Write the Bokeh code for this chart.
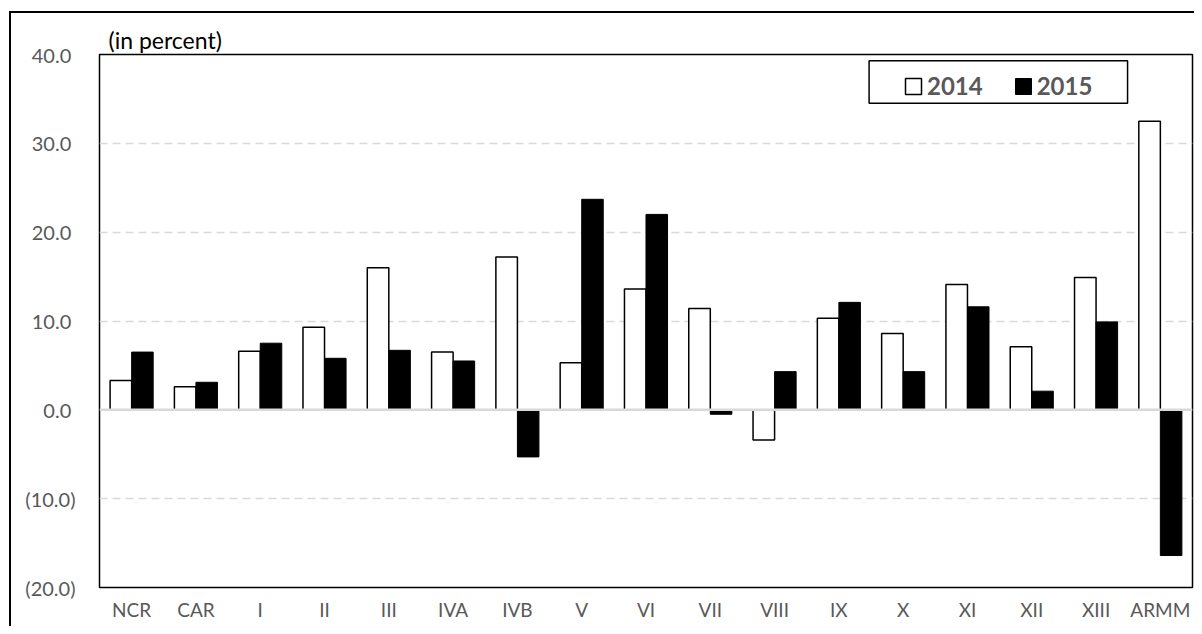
from bokeh.plotting import figure
from bokeh.models import (FactorRange, Range1d, FixedTicker, Span, BoxAnnotation,
                          Legend, LegendItem, ColumnDataSource)
from bokeh.transform import dodge
from bokeh.layouts import column
from bokeh.embed import file_html
from bokeh.resources import INLINE

# ---- data ----
regions = ["NCR", "CAR", "I", "II", "III", "IVA", "IVB", "V", "VI", "VII",
           "VIII", "IX", "X", "XI", "XII", "XIII", "ARMM"]
growth_2014 = [3.3, 2.6, 6.6, 9.3, 16.0, 6.5, 17.2, 5.3, 13.6, 11.4,
               -3.4, 10.3, 8.6, 14.1, 7.1, 14.9, 32.5]
growth_2015 = [6.5, 3.1, 7.5, 5.8, 6.7, 5.5, -5.3, 23.7, 22.0, -0.5,
               4.3, 12.1, 4.3, 11.6, 2.1, 9.9, -16.4]
series_names = ["2014", "2015"]
y_ticks = [-20, -10, 0, 10, 20, 30, 40]
y_tick_labels = ["(20.0)", "(10.0)", "0.0\u2008", "10.0\u2008", "20.0\u2008",
                 "30.0\u2008", "40.0\u2008"]
grid_ticks = [-10, 10, 20, 30]
unit_label = "(in percent)"

src = ColumnDataSource(dict(region=regions, y2014=growth_2014, y2015=growth_2015))

FONT = "Lato"
GREY = "#595959"

p = figure(x_range=FactorRange(factors=regions, range_padding=0),
           y_range=Range1d(-20, 40),
           width=1183, height=613,
           min_border_left=88, min_border_right=2,
           min_border_top=41, min_border_bottom=39,
           output_backend="svg", toolbar_location=None,
           title=unit_label)

p.background_fill_color = "white"
p.border_fill_color = "white"
p.outline_line_color = "black"
p.outline_line_width = 1.5

p.title.text_font = FONT
p.title.text_font_size = "23px"
p.title.text_font_style = "normal"
p.title.text_color = "black"
p.title.align = "left"
p.title.offset = 9
p.title.standoff = 1

bw = 0.335
r14 = p.vbar(x=dodge("region", -bw / 2, range=p.x_range), top="y2014", bottom=0,
             width=bw, fill_color="white", line_color="black", line_width=1.5,
             source=src)
r15 = p.vbar(x=dodge("region", bw / 2, range=p.x_range), top="y2015", bottom=0,
             width=bw, fill_color="black", line_color="black", line_width=1,
             source=src)

p.add_layout(Span(location=0, dimension="width", line_color="#d9d9d9",
                  line_width=2.5))

# grid
p.xgrid.visible = False
p.ygrid.ticker = FixedTicker(ticks=grid_ticks)
p.ygrid.grid_line_color = "#d9d9d9"
p.ygrid.grid_line_width = 1.5
p.ygrid.grid_line_dash = "8 5"

# axes
p.yaxis.ticker = FixedTicker(ticks=y_ticks)
p.yaxis.major_label_overrides = dict(zip(y_ticks, y_tick_labels))
for ax in (p.xaxis[0], p.yaxis[0]):
    ax.axis_line_color = None
    ax.major_tick_line_color = None
    ax.minor_tick_line_color = None
    ax.major_tick_out = 0
    ax.major_tick_in = 0
    ax.minor_tick_out = 0
    ax.minor_tick_in = 0
    ax.major_label_text_font = FONT
    ax.major_label_text_color = GREY
p.yaxis.major_label_text_font_size = "20px"
p.yaxis.major_label_standoff = 24
p.xaxis.major_label_text_font_size = "19px"
p.xaxis.major_label_standoff = 10

# legend frame
p.add_layout(BoxAnnotation(left=11.97, right=15.99, top=39.3, bottom=34.5,
                           fill_color="white", fill_alpha=1.0,
                           line_color="black", line_alpha=1.0, line_width=1.5))

legend = Legend(items=[LegendItem(label=series_names[0], renderers=[r14]),
                       LegendItem(label=series_names[1], renderers=[r15])],
                orientation="horizontal", location=(804, 487),
                border_line_alpha=0, background_fill_alpha=0,
                glyph_width=20, glyph_height=20, label_standoff=4,
                spacing=30, padding=0, margin=0,
                label_text_font=FONT, label_text_font_size="24px",
                label_text_font_style="bold", label_text_color=GREY)
p.add_layout(legend)

layout = column(p, styles={"margin-left": "9px", "margin-top": "11px",
                           "border-left": "2px solid black",
                           "border-top": "2px solid black"})

open("out.html", "w").write(file_html(layout, INLINE))
